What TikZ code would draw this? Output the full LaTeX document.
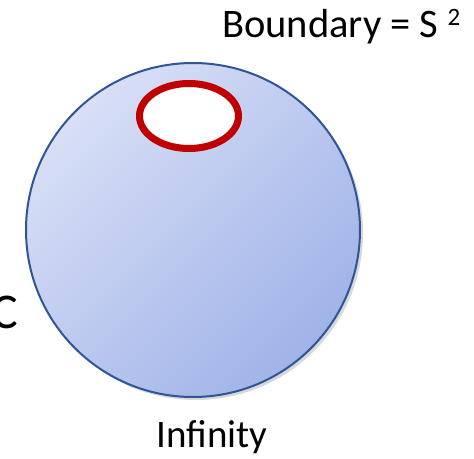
\documentclass[tikz,border=0pt]{standalone}
\usepackage{fontspec}
\setmainfont{Carlito}
\usetikzlibrary{shapes.geometric,shadows}
\definecolor{balllight}{RGB}{216,223,246}
\definecolor{balldark}{RGB}{160,179,232}
\definecolor{ballborder}{RGB}{47,85,151}
\definecolor{holered}{RGB}{192,0,0}
\tikzset{
  ball/.style={circle, minimum size=334pt, inner sep=0pt, draw=ballborder, line width=2pt,
    top color=balllight, bottom color=balldark, shading angle=45,
    drop shadow={opacity=0.3, shadow xshift=3pt, shadow yshift=-3pt}},
  hole/.style={ellipse, minimum width=99pt, minimum height=65pt, inner sep=0pt,
    draw=holered, line width=7pt, fill=white},
  toplbl/.style={inner sep=0pt, font=\fontsize{40.5}{46}\selectfont},
  botlbl/.style={inner sep=0pt, font=\fontsize{39}{45}\selectfont},
  biglbl/.style={inner sep=0pt, font=\fontsize{50}{58}\selectfont}
}
\begin{document}
\begin{tikzpicture}[x=1pt,y=1pt]
\fill[white] (0,0) rectangle (474,-458);
\useasboundingbox (0,0) rectangle (474,-458);
\node[ball] (ball) at (193,-230) {};
\node[hole] (hole) at (189,-116) {};
\node[toplbl, anchor=base west] (bnd) at (222,-37) {Boundary = S \raisebox{12pt}{\fontsize{25}{25}\selectfont 2}};
\node[botlbl, anchor=base] (inf) at (212,-447) {Infinity};
\node[biglbl, anchor=base east] (c) at (18,-328) {C};
\end{tikzpicture}
\end{document}
